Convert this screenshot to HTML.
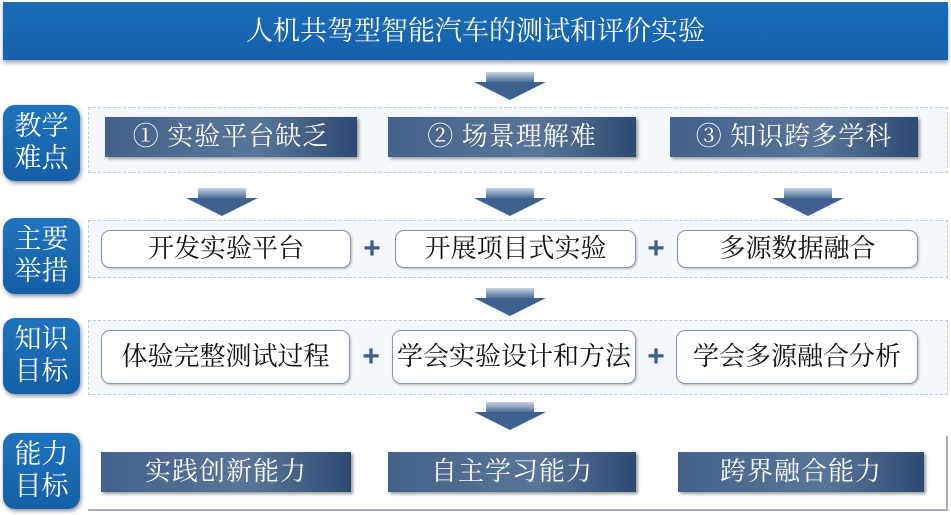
<!DOCTYPE html>
<html><head><meta charset="utf-8"><style>
body{margin:0;width:951px;height:515px;background:#fff;position:relative;overflow:hidden;font-family:"Liberation Serif","Noto Serif CJK SC","WenQuanYi Zen Hei",serif}
div{position:absolute;box-sizing:border-box}
.title{left:3px;top:2px;width:945px;height:58px;background:linear-gradient(#1a6cb8,#1561ab);color:#fff;font-size:27px;text-align:center;line-height:58px;box-shadow:0 3px 4px #9ab}
.lab{left:3px;width:77px;height:76px;background:linear-gradient(#1f73bd,#155fa6);border-radius:12px;color:#fff;font-size:27px;line-height:32px;text-align:center;padding-top:5px;box-shadow:1px 2px 4px #889}
.row{left:88px;width:860px;border:1px dashed #bfcddd;background:#f4f8fc}
.dk{height:40px;background:linear-gradient(90deg,#45618a,#5a7599 60%,#2f4a72);color:#fff;font-size:26px;line-height:40px;text-align:center;box-shadow:2px 2px 3px #999;letter-spacing:1px}
.wb{background:#fff;border:1.5px solid #8797ab;border-radius:9px;font-size:26px;text-align:center;color:#111;box-shadow:1px 1px 2px #bbb}
.plus{color:#3f5e88;font-size:30px;font-weight:bold;font-family:"Liberation Sans",sans-serif;width:24px;text-align:center}
.ar{width:0;height:0;border-left:36px solid transparent;border-right:36px solid transparent;border-top:18px solid #3f6190}
.arb{width:48px;height:10px;background:linear-gradient(#c9d4e2,#4f6f9a)}
</style></head><body>
<div class="title">人机共驾型智能汽车的测试和评价实验</div>

<div class="arb" style="left:486px;top:72px"></div><div class="ar" style="left:474px;top:82px"></div>

<div class="lab" style="top:105px">教学<br>难点</div>
<div class="row" style="top:107px;height:66px"></div>
<div class="dk" style="left:105px;top:117px;width:252px">① 实验平台缺乏</div>
<div class="dk" style="left:388px;top:117px;width:248px">② 场景理解难</div>
<div class="dk" style="left:670px;top:117px;width:248px">③ 知识跨多学科</div>

<div class="arb" style="left:198px;top:188px"></div><div class="ar" style="left:186px;top:198px"></div>
<div class="arb" style="left:486px;top:188px"></div><div class="ar" style="left:474px;top:198px"></div>
<div class="arb" style="left:784px;top:188px"></div><div class="ar" style="left:772px;top:198px"></div>

<div class="lab" style="top:218px">主要<br>举措</div>
<div class="row" style="top:220px;height:58px"></div>
<div class="wb" style="left:101px;top:230px;width:250px;height:38px;line-height:36px">开发实验平台</div>
<div class="plus" style="left:360px;top:230px;line-height:38px">+</div>
<div class="wb" style="left:395px;top:230px;width:241px;height:38px;line-height:36px">开展项目式实验</div>
<div class="plus" style="left:644px;top:230px;line-height:38px">+</div>
<div class="wb" style="left:677px;top:230px;width:241px;height:38px;line-height:36px">多源数据融合</div>

<div class="arb" style="left:486px;top:288px"></div><div class="ar" style="left:474px;top:298px"></div>

<div class="lab" style="top:318px">知识<br>目标</div>
<div class="row" style="top:320px;height:75px"></div>
<div class="wb" style="left:101px;top:330px;width:249px;height:54px;line-height:52px">体验完整测试过程</div>
<div class="plus" style="left:359px;top:330px;line-height:54px">+</div>
<div class="wb" style="left:392px;top:330px;width:244px;height:54px;line-height:52px">学会实验设计和方法</div>
<div class="plus" style="left:644px;top:330px;line-height:54px">+</div>
<div class="wb" style="left:676px;top:330px;width:242px;height:54px;line-height:52px">学会多源融合分析</div>

<div class="arb" style="left:486px;top:402px"></div><div class="ar" style="left:474px;top:412px"></div>

<div class="lab" style="top:433px">能力<br>目标</div>
<div style="left:88px;top:436px;width:860px;height:75px;border-right:2px solid #aab;border-bottom:2px solid #aab"></div>
<div class="dk" style="left:101px;top:452px;width:250px">实践创新能力</div>
<div class="dk" style="left:388px;top:452px;width:248px">自主学习能力</div>
<div class="dk" style="left:678px;top:452px;width:246px">跨界融合能力</div>
</body></html>
